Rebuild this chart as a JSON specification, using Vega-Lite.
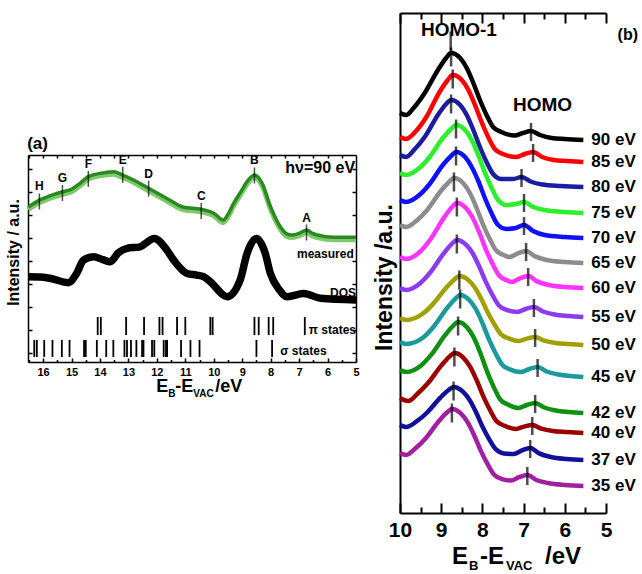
{
"$schema": "https://vega.github.io/schema/vega-lite/v6.json",
"background": "white",
"padding": {"left": 5, "top": 12, "right": 0, "bottom": 0},
"config": {
  "view": {"stroke": null},
  "font": "Liberation Sans",
  "axis": {"domainColor": "black", "tickColor": "black", "labelColor": "black", "titleColor": "black", "labelFont": "Liberation Sans", "titleFont": "Liberation Sans", "labelFontWeight": "bold", "titleFontWeight": "bold", "grid": false, "domainWidth": 1.5, "tickWidth": 1.5, "labelFlush": false, "labelOverlap": false},
  "text": {"font": "Liberation Sans", "fontWeight": "bold", "color": "black"}
},
"datasets": {
  "measured": [
    {"e":16.52,"y":6.33},{"e":16.13,"y":6.64},{"e":15.76,"y":6.82},{"e":15.32,"y":7.0},{"e":15.0,"y":7.11},{"e":14.7,"y":7.37},{"e":14.41,"y":7.66},{"e":14.0,"y":7.8},{"e":13.53,"y":7.87},{"e":13.2,"y":7.73},{"e":12.7,"y":7.44},{"e":12.29,"y":7.15},{"e":11.65,"y":6.71},{"e":11.06,"y":6.33},{"e":10.44,"y":6.24},{"e":10.0,"y":6.07},{"e":9.67,"y":5.77},{"e":9.5,"y":6.02},{"e":9.3,"y":6.5},{"e":9.05,"y":7.0},{"e":8.83,"y":7.44},{"e":8.57,"y":7.73},{"e":8.3,"y":7.37},{"e":8.01,"y":6.37},{"e":7.66,"y":5.48},{"e":7.45,"y":5.18},{"e":7.25,"y":5.12},{"e":6.95,"y":5.22},{"e":6.74,"y":5.34},{"e":6.55,"y":5.2},{"e":6.36,"y":5.12},{"e":5.78,"y":5.02},{"e":5.0,"y":5.02}
  ],
  "dos": [
    {"e":16.52,"y":3.31},{"e":16.1,"y":3.3},{"e":15.76,"y":3.24},{"e":15.11,"y":3.05},{"e":14.82,"y":3.45},{"e":14.58,"y":4.03},{"e":14.23,"y":4.18},{"e":13.9,"y":4.05},{"e":13.64,"y":3.96},{"e":13.35,"y":4.35},{"e":13.05,"y":4.54},{"e":12.59,"y":4.61},{"e":12.09,"y":4.97},{"e":11.65,"y":4.47},{"e":11.41,"y":4.03},{"e":10.94,"y":3.45},{"e":10.6,"y":3.38},{"e":10.36,"y":3.31},{"e":10.12,"y":3.09},{"e":9.53,"y":2.44},{"e":9.07,"y":3.17},{"e":8.83,"y":4.32},{"e":8.5,"y":4.97},{"e":8.19,"y":4.32},{"e":8.01,"y":3.45},{"e":7.7,"y":2.75},{"e":7.42,"y":2.44},{"e":6.84,"y":2.58},{"e":6.25,"y":2.37},{"e":5.0,"y":2.3}
  ],
  "states": [
    {"k":"pi","e":14.08},{"k":"pi","e":13.97},{"k":"pi","e":13.08},{"k":"pi","e":12.45},{"k":"pi","e":11.91},{"k":"pi","e":11.8},{"k":"pi","e":11.29},{"k":"pi","e":11.0},{"k":"pi","e":10.12},{"k":"pi","e":10.04},{"k":"pi","e":8.57},{"k":"pi","e":8.42},{"k":"pi","e":8.07},{"k":"pi","e":7.91},{"k":"pi","e":6.8},
    {"k":"sigma","e":16.31},{"k":"sigma","e":16.22},{"k":"sigma","e":15.96},{"k":"sigma","e":15.67},{"k":"sigma","e":15.34},{"k":"sigma","e":15.07},{"k":"sigma","e":14.56},{"k":"sigma","e":14.5},{"k":"sigma","e":14.11},{"k":"sigma","e":13.78},{"k":"sigma","e":13.53},{"k":"sigma","e":13.14},{"k":"sigma","e":13.05},{"k":"sigma","e":12.91},{"k":"sigma","e":12.72},{"k":"sigma","e":12.52},{"k":"sigma","e":12.47},{"k":"sigma","e":12.17},{"k":"sigma","e":12.09},{"k":"sigma","e":11.76},{"k":"sigma","e":11.68},{"k":"sigma","e":11.64},{"k":"sigma","e":11.15},{"k":"sigma","e":10.82},{"k":"sigma","e":10.5},{"k":"sigma","e":8.5},{"k":"sigma","e":7.95}
  ],
  "letters": [
    {"L":"H","e":16.13,"y":6.58},{"L":"G","e":15.32,"y":6.95},{"L":"F","e":14.41,"y":7.56},{"L":"E","e":13.2,"y":7.74},{"L":"D","e":12.29,"y":7.14},{"L":"C","e":10.44,"y":6.17},{"L":"B","e":8.57,"y":7.71},{"L":"A","e":6.74,"y":5.23}
  ],
  "curves": [
    {"s":"90 eV","e":10,"y":400},{"s":"90 eV","e":9.85,"y":398},{"s":"90 eV","e":9.65,"y":406},{"s":"90 eV","e":9.4,"y":420},{"s":"90 eV","e":9.08,"y":443},{"s":"90 eV","e":8.88,"y":455},{"s":"90 eV","e":8.76,"y":460},{"s":"90 eV","e":8.54,"y":455},{"s":"90 eV","e":8.38,"y":445},{"s":"90 eV","e":8.22,"y":430},{"s":"90 eV","e":8.06,"y":413},{"s":"90 eV","e":7.9,"y":398},{"s":"90 eV","e":7.74,"y":386},{"s":"90 eV","e":7.54,"y":381},{"s":"90 eV","e":7.22,"y":377.5},{"s":"90 eV","e":7.02,"y":380},{"s":"90 eV","e":6.82,"y":382},{"s":"90 eV","e":6.6,"y":378},{"s":"90 eV","e":6.32,"y":375},{"s":"90 eV","e":6.0,"y":374},{"s":"90 eV","e":5.55,"y":373},
    {"s":"85 eV","e":10,"y":376},{"s":"85 eV","e":9.85,"y":374},{"s":"85 eV","e":9.61,"y":382},{"s":"85 eV","e":9.36,"y":396},{"s":"85 eV","e":9.04,"y":421},{"s":"85 eV","e":8.84,"y":433},{"s":"85 eV","e":8.72,"y":438},{"s":"85 eV","e":8.5,"y":433},{"s":"85 eV","e":8.34,"y":423},{"s":"85 eV","e":8.18,"y":408},{"s":"85 eV","e":8.02,"y":391},{"s":"85 eV","e":7.86,"y":376},{"s":"85 eV","e":7.7,"y":364},{"s":"85 eV","e":7.5,"y":359},{"s":"85 eV","e":7.17,"y":356},{"s":"85 eV","e":6.97,"y":359},{"s":"85 eV","e":6.77,"y":361},{"s":"85 eV","e":6.55,"y":356},{"s":"85 eV","e":6.27,"y":353},{"s":"85 eV","e":5.95,"y":352},{"s":"85 eV","e":5.55,"y":351},
    {"s":"80 eV","e":10,"y":358},{"s":"80 eV","e":9.85,"y":356},{"s":"80 eV","e":9.65,"y":363.5},{"s":"80 eV","e":9.4,"y":376},{"s":"80 eV","e":9.08,"y":398},{"s":"80 eV","e":8.88,"y":409},{"s":"80 eV","e":8.76,"y":413},{"s":"80 eV","e":8.54,"y":408},{"s":"80 eV","e":8.38,"y":398},{"s":"80 eV","e":8.22,"y":383},{"s":"80 eV","e":8.06,"y":366},{"s":"80 eV","e":7.9,"y":351},{"s":"80 eV","e":7.74,"y":339},{"s":"80 eV","e":7.54,"y":334},{"s":"80 eV","e":7.25,"y":334},{"s":"80 eV","e":7.05,"y":336},{"s":"80 eV","e":6.83,"y":331.5},{"s":"80 eV","e":6.55,"y":328.5},{"s":"80 eV","e":6.1,"y":327},{"s":"80 eV","e":5.55,"y":326},
    {"s":"75 eV","e":10,"y":340},{"s":"75 eV","e":9.85,"y":338},{"s":"75 eV","e":9.53,"y":345},{"s":"75 eV","e":9.28,"y":356},{"s":"75 eV","e":8.96,"y":375},{"s":"75 eV","e":8.76,"y":384},{"s":"75 eV","e":8.64,"y":388},{"s":"75 eV","e":8.42,"y":383},{"s":"75 eV","e":8.26,"y":373},{"s":"75 eV","e":8.1,"y":358},{"s":"75 eV","e":7.94,"y":340.5},{"s":"75 eV","e":7.78,"y":325.5},{"s":"75 eV","e":7.62,"y":313},{"s":"75 eV","e":7.42,"y":308},{"s":"75 eV","e":7.19,"y":309},{"s":"75 eV","e":6.99,"y":311},{"s":"75 eV","e":6.77,"y":306},{"s":"75 eV","e":6.49,"y":303},{"s":"75 eV","e":6.0,"y":301},{"s":"75 eV","e":5.55,"y":300},
    {"s":"70 eV","e":10,"y":313},{"s":"70 eV","e":9.85,"y":311},{"s":"70 eV","e":9.53,"y":318},{"s":"70 eV","e":9.28,"y":329},{"s":"70 eV","e":8.96,"y":348},{"s":"70 eV","e":8.76,"y":357},{"s":"70 eV","e":8.64,"y":361},{"s":"70 eV","e":8.42,"y":356},{"s":"70 eV","e":8.26,"y":346},{"s":"70 eV","e":8.1,"y":332},{"s":"70 eV","e":7.94,"y":315},{"s":"70 eV","e":7.78,"y":300},{"s":"70 eV","e":7.62,"y":288},{"s":"70 eV","e":7.42,"y":284},{"s":"70 eV","e":7.19,"y":285},{"s":"70 eV","e":6.99,"y":288},{"s":"70 eV","e":6.77,"y":282},{"s":"70 eV","e":6.49,"y":278},{"s":"70 eV","e":6.0,"y":276},{"s":"70 eV","e":5.55,"y":275},
    {"s":"65 eV","e":10,"y":288},{"s":"65 eV","e":9.85,"y":286},{"s":"65 eV","e":9.58,"y":293},{"s":"65 eV","e":9.33,"y":303.5},{"s":"65 eV","e":9.01,"y":322},{"s":"65 eV","e":8.81,"y":331},{"s":"65 eV","e":8.69,"y":335},{"s":"65 eV","e":8.47,"y":330},{"s":"65 eV","e":8.31,"y":320.5},{"s":"65 eV","e":8.15,"y":306},{"s":"65 eV","e":7.99,"y":289},{"s":"65 eV","e":7.83,"y":274.7},{"s":"65 eV","e":7.67,"y":262.75},{"s":"65 eV","e":7.47,"y":257.7},{"s":"65 eV","e":7.34,"y":256},{"s":"65 eV","e":7.14,"y":259.6},{"s":"65 eV","e":6.94,"y":262},{"s":"65 eV","e":6.72,"y":256.6},{"s":"65 eV","e":6.44,"y":253},{"s":"65 eV","e":6.0,"y":251},{"s":"65 eV","e":5.55,"y":250},
    {"s":"60 eV","e":10,"y":256},{"s":"60 eV","e":9.85,"y":254},{"s":"60 eV","e":9.51,"y":261.4},{"s":"60 eV","e":9.26,"y":273.8},{"s":"60 eV","e":8.94,"y":294.9},{"s":"60 eV","e":8.74,"y":305.7},{"s":"60 eV","e":8.62,"y":310},{"s":"60 eV","e":8.4,"y":305},{"s":"60 eV","e":8.24,"y":295.5},{"s":"60 eV","e":8.08,"y":281},{"s":"60 eV","e":7.92,"y":264},{"s":"60 eV","e":7.76,"y":249.7},{"s":"60 eV","e":7.6,"y":237.75},{"s":"60 eV","e":7.4,"y":232.7},{"s":"60 eV","e":7.29,"y":231},{"s":"60 eV","e":7.09,"y":234.6},{"s":"60 eV","e":6.89,"y":237},{"s":"60 eV","e":6.67,"y":231.6},{"s":"60 eV","e":6.39,"y":228},{"s":"60 eV","e":6.0,"y":226},{"s":"60 eV","e":5.55,"y":225},
    {"s":"55 eV","e":10,"y":225},{"s":"55 eV","e":9.85,"y":223},{"s":"55 eV","e":9.51,"y":229.8},{"s":"55 eV","e":9.26,"y":240.8},{"s":"55 eV","e":8.94,"y":259.6},{"s":"55 eV","e":8.74,"y":269.2},{"s":"55 eV","e":8.62,"y":273},{"s":"55 eV","e":8.4,"y":268.4},{"s":"55 eV","e":8.24,"y":260},{"s":"55 eV","e":8.08,"y":246.8},{"s":"55 eV","e":7.92,"y":231.4},{"s":"55 eV","e":7.76,"y":218.3},{"s":"55 eV","e":7.6,"y":207.55},{"s":"55 eV","e":7.4,"y":202.9},{"s":"55 eV","e":7.15,"y":201},{"s":"55 eV","e":6.95,"y":204},{"s":"55 eV","e":6.75,"y":206},{"s":"55 eV","e":6.53,"y":201.5},{"s":"55 eV","e":6.25,"y":198.5},{"s":"55 eV","e":5.9,"y":197},{"s":"55 eV","e":5.55,"y":196},
    {"s":"50 eV","e":10,"y":195},{"s":"50 eV","e":9.85,"y":193},{"s":"50 eV","e":9.45,"y":199.2},{"s":"50 eV","e":9.2,"y":208.9},{"s":"50 eV","e":8.88,"y":225.2},{"s":"50 eV","e":8.68,"y":233.6},{"s":"50 eV","e":8.56,"y":237},{"s":"50 eV","e":8.34,"y":232.9},{"s":"50 eV","e":8.18,"y":225.3},{"s":"50 eV","e":8.02,"y":213.5},{"s":"50 eV","e":7.86,"y":199.7},{"s":"50 eV","e":7.7,"y":188},{"s":"50 eV","e":7.54,"y":178.35},{"s":"50 eV","e":7.34,"y":174.2},{"s":"50 eV","e":7.12,"y":172},{"s":"50 eV","e":6.92,"y":174.4},{"s":"50 eV","e":6.72,"y":176},{"s":"50 eV","e":6.5,"y":172.4},{"s":"50 eV","e":6.22,"y":170},{"s":"50 eV","e":5.9,"y":169},{"s":"50 eV","e":5.55,"y":168},
    {"s":"45 eV","e":10,"y":171},{"s":"45 eV","e":9.85,"y":169},{"s":"45 eV","e":9.43,"y":175.7},{"s":"45 eV","e":9.18,"y":186.5},{"s":"45 eV","e":8.86,"y":204.8},{"s":"45 eV","e":8.66,"y":214.2},{"s":"45 eV","e":8.54,"y":218},{"s":"45 eV","e":8.32,"y":213},{"s":"45 eV","e":8.16,"y":204},{"s":"45 eV","e":8.0,"y":190},{"s":"45 eV","e":7.84,"y":173.7},{"s":"45 eV","e":7.68,"y":159.8},{"s":"45 eV","e":7.52,"y":148.3},{"s":"45 eV","e":7.32,"y":143.4},{"s":"45 eV","e":7.06,"y":141},{"s":"45 eV","e":6.86,"y":144},{"s":"45 eV","e":6.66,"y":146},{"s":"45 eV","e":6.44,"y":141.5},{"s":"45 eV","e":6.16,"y":138.5},{"s":"45 eV","e":5.85,"y":137},{"s":"45 eV","e":5.55,"y":136},
    {"s":"42 eV","e":10,"y":143},{"s":"42 eV","e":9.85,"y":141},{"s":"42 eV","e":9.48,"y":147.8},{"s":"42 eV","e":9.23,"y":158.8},{"s":"42 eV","e":8.91,"y":177.6},{"s":"42 eV","e":8.71,"y":187.2},{"s":"42 eV","e":8.59,"y":191},{"s":"42 eV","e":8.37,"y":185.5},{"s":"42 eV","e":8.21,"y":175.5},{"s":"42 eV","e":8.05,"y":160},{"s":"42 eV","e":7.89,"y":141.9},{"s":"42 eV","e":7.73,"y":126.4},{"s":"42 eV","e":7.57,"y":113.65},{"s":"42 eV","e":7.37,"y":108.2},{"s":"42 eV","e":7.12,"y":105},{"s":"42 eV","e":6.92,"y":108},{"s":"42 eV","e":6.72,"y":110},{"s":"42 eV","e":6.5,"y":105.5},{"s":"42 eV","e":6.22,"y":102.5},{"s":"42 eV","e":5.9,"y":101},{"s":"42 eV","e":5.55,"y":100},
    {"s":"40 eV","e":10,"y":115},{"s":"40 eV","e":9.8,"y":112},{"s":"40 eV","e":9.57,"y":119.5},{"s":"40 eV","e":9.32,"y":129.9},{"s":"40 eV","e":9.0,"y":147.4},{"s":"40 eV","e":8.8,"y":156.4},{"s":"40 eV","e":8.68,"y":160},{"s":"40 eV","e":8.46,"y":155.2},{"s":"40 eV","e":8.3,"y":146.4},{"s":"40 eV","e":8.14,"y":132.8},{"s":"40 eV","e":7.98,"y":116.8},{"s":"40 eV","e":7.82,"y":103.2},{"s":"40 eV","e":7.66,"y":92},{"s":"40 eV","e":7.46,"y":87.2},{"s":"40 eV","e":7.19,"y":84},{"s":"40 eV","e":6.99,"y":86.4},{"s":"40 eV","e":6.79,"y":88},{"s":"40 eV","e":6.57,"y":84.4},{"s":"40 eV","e":6.29,"y":82},{"s":"40 eV","e":5.95,"y":81},{"s":"40 eV","e":5.55,"y":80},
    {"s":"37 eV","e":10,"y":88},{"s":"37 eV","e":9.85,"y":86},{"s":"37 eV","e":9.59,"y":91.8},{"s":"37 eV","e":9.34,"y":100.5},{"s":"37 eV","e":9.02,"y":115.4},{"s":"37 eV","e":8.82,"y":123},{"s":"37 eV","e":8.7,"y":126},{"s":"37 eV","e":8.48,"y":121.6},{"s":"37 eV","e":8.32,"y":113.6},{"s":"37 eV","e":8.16,"y":101.2},{"s":"37 eV","e":8.0,"y":86.6},{"s":"37 eV","e":7.84,"y":74.2},{"s":"37 eV","e":7.68,"y":64},{"s":"37 eV","e":7.48,"y":59.6},{"s":"37 eV","e":7.24,"y":59},{"s":"37 eV","e":7.04,"y":62.6},{"s":"37 eV","e":6.84,"y":65},{"s":"37 eV","e":6.62,"y":59.6},{"s":"37 eV","e":6.34,"y":56},{"s":"37 eV","e":5.95,"y":54},{"s":"37 eV","e":5.55,"y":53},
    {"s":"35 eV","e":10,"y":60},{"s":"35 eV","e":9.85,"y":58},{"s":"35 eV","e":9.63,"y":64.4},{"s":"35 eV","e":9.38,"y":74.5},{"s":"35 eV","e":9.06,"y":91.7},{"s":"35 eV","e":8.86,"y":100.5},{"s":"35 eV","e":8.74,"y":104},{"s":"35 eV","e":8.52,"y":99.4},{"s":"35 eV","e":8.36,"y":90.9},{"s":"35 eV","e":8.2,"y":77.8},{"s":"35 eV","e":8.04,"y":62.4},{"s":"35 eV","e":7.88,"y":49.3},{"s":"35 eV","e":7.72,"y":38.55},{"s":"35 eV","e":7.52,"y":33.9},{"s":"35 eV","e":7.31,"y":32.5},{"s":"35 eV","e":7.11,"y":35.8},{"s":"35 eV","e":6.91,"y":38},{"s":"35 eV","e":6.69,"y":33},{"s":"35 eV","e":6.41,"y":30},{"s":"35 eV","e":6.0,"y":28},{"s":"35 eV","e":5.55,"y":27}
  ],
  "peaks": [
    {"e":8.77,"y":476},{"e":8.76,"y":460},{"e":8.72,"y":438},{"e":8.76,"y":413},{"e":8.64,"y":388},{"e":8.64,"y":361},{"e":8.69,"y":335},{"e":8.62,"y":310},{"e":8.62,"y":273},{"e":8.56,"y":237},{"e":8.54,"y":218},{"e":8.59,"y":191},{"e":8.68,"y":160},{"e":8.7,"y":126},{"e":8.74,"y":104}
  ],
  "homo": [
    {"e":6.82,"y":382},{"e":6.77,"y":361},{"e":7.05,"y":336},{"e":6.99,"y":311},{"e":6.99,"y":288},{"e":6.94,"y":262},{"e":6.89,"y":237},{"e":6.75,"y":206},{"e":6.72,"y":176},{"e":6.66,"y":146},{"e":6.72,"y":110},{"e":6.79,"y":88},{"e":6.84,"y":65},{"e":6.91,"y":38}
  ]
},
"spacing": 2,
"hconcat": [
  {
    "bounds": "flush",
    "spacing": 0,
    "vconcat": [
      {"width": 328, "height": 142, "data": {"values": []}, "mark": "point"},
      {
        "width": 328, "height": 207,
        "resolve": {"axis": {"x": "independent", "y": "independent"}},
        "layer": [
          {"data": {"name": "measured"},
           "mark": {"type": "line", "color": "#80c870", "strokeWidth": 5, "yOffset": 2.5, "interpolate": "monotone"},
           "encoding": {
             "x": {"field": "e", "type": "quantitative", "scale": {"domain": [16.53, 5], "nice": false, "zero": false},
                   "axis": {"orient": "bottom", "values": [16,15,14,13,12,11,10,9,8,7,6,5], "tickSize": -4, "labelFontSize": 11, "labelPadding": 8, "title": null}},
             "y": {"field": "y", "type": "quantitative", "scale": {"domain": [-0.4, 8.6], "nice": false, "zero": false},
                   "axis": {"orient": "left", "values": [0,1,2,3,4,5,6,7,8], "tickSize": -4, "labels": false, "title": "Intensity / a.u.", "titleFontSize": 16, "titlePadding": 6, "titleY": 97}}
           }},
          {"data": {"name": "measured"},
           "mark": {"type": "line", "color": "#2b8a1f", "strokeWidth": 3.5, "interpolate": "monotone"},
           "encoding": {
             "x": {"field": "e", "type": "quantitative", "scale": {"domain": [16.53, 5], "nice": false, "zero": false},
                   "axis": {"orient": "bottom", "values": [16.5,15.5,14.5,13.5,12.5,11.5,10.5,9.5,8.5,7.5,6.5,5.5], "tickSize": -2.5, "labels": false, "domain": false, "title": null}},
             "y": {"field": "y", "type": "quantitative", "scale": {"domain": [-0.4, 8.6], "nice": false, "zero": false},
                   "axis": {"orient": "right", "values": [0,1,2,3,4,5,6,7,8], "tickSize": -4, "labels": false, "title": null}}
           }},
          {"data": {"name": "dos"},
           "mark": {"type": "line", "color": "black", "strokeWidth": 7.5, "interpolate": "monotone"},
           "encoding": {
             "x": {"field": "e", "type": "quantitative", "scale": {"domain": [16.53, 5], "nice": false, "zero": false},
                   "axis": {"orient": "top", "values": [16.5,16,15.5,15,14.5,14,13.5,13,12.5,12,11.5,11,10.5,10,9.5,9,8.5,8,7.5,7,6.5,6,5.5], "tickSize": -3, "labels": false, "title": null}},
             "y": {"field": "y", "type": "quantitative", "scale": {"domain": [-0.4, 8.6], "nice": false, "zero": false}, "axis": null}
           }},
          {"data": {"name": "states"},
           "transform": [{"filter": "datum.k == 'pi'"}],
           "mark": {"type": "rule", "color": "black", "strokeWidth": 1.8},
           "encoding": {
             "x": {"field": "e", "type": "quantitative", "axis": null},
             "y": {"datum": 0.77, "type": "quantitative", "axis": null},
             "y2": {"datum": 1.56}
           }},
          {"data": {"name": "states"},
           "transform": [{"filter": "datum.k == 'sigma'"}],
           "mark": {"type": "rule", "color": "black", "strokeWidth": 1.8},
           "encoding": {
             "x": {"field": "e", "type": "quantitative", "axis": null},
             "y": {"datum": -0.18, "type": "quantitative", "axis": null},
             "y2": {"datum": 0.56}
           }},
          {"data": {"name": "letters"},
           "mark": {"type": "tick", "orient": "vertical", "color": "black", "size": 16, "thickness": 1.5},
           "encoding": {
             "x": {"field": "e", "type": "quantitative", "axis": null},
             "y": {"field": "y", "type": "quantitative", "axis": null}
           }},
          {"data": {"name": "letters"},
           "mark": {"type": "text", "fontSize": 12, "dy": -15, "baseline": "middle"},
           "encoding": {
             "x": {"field": "e", "type": "quantitative", "axis": null},
             "y": {"field": "y", "type": "quantitative", "axis": null},
             "text": {"field": "L"}
           }},
          {"data": {"values": [{"t": "measured", "e": 5.08, "y": 4.3}, {"t": "DOS", "e": 5.0, "y": 2.61}, {"t": "π states", "e": 5.0, "y": 1.0}]},
           "mark": {"type": "text", "fontSize": 12, "align": "right", "baseline": "middle"},
           "encoding": {
             "x": {"field": "e", "type": "quantitative", "axis": null},
             "y": {"field": "y", "type": "quantitative", "axis": null},
             "text": {"field": "t"}
           }},
          {"data": {"values": [{"t": "σ states", "e": 7.66, "y": 0.09}]},
           "mark": {"type": "text", "fontSize": 12, "align": "left", "baseline": "middle"},
           "encoding": {
             "x": {"field": "e", "type": "quantitative", "axis": null},
             "y": {"field": "y", "type": "quantitative", "axis": null},
             "text": {"field": "t"}
           }},
          {"data": {"values": [{"t": "hν=90 eV", "e": 5.03, "y": 8.03}]},
           "mark": {"type": "text", "fontSize": 16, "align": "right", "baseline": "middle"},
           "encoding": {
             "x": {"field": "e", "type": "quantitative", "axis": null},
             "y": {"field": "y", "type": "quantitative", "axis": null},
             "text": {"field": "t"}
           }},
          {"data": {"values": [{"t": "(a)", "e": 16.56, "y": 9.08}]},
           "mark": {"type": "text", "fontSize": 17, "align": "left", "baseline": "middle"},
           "encoding": {
             "x": {"field": "e", "type": "quantitative", "axis": null},
             "y": {"field": "y", "type": "quantitative", "axis": null},
             "text": {"field": "t"}
           }},
          {"data": {"values": [{"t": "E", "e": 12.02, "y": -1.704}, {"t": "-E", "e": 11.35, "y": -1.704}, {"t": "/eV", "e": 9.95, "y": -1.704}]},
           "mark": {"type": "text", "fontSize": 18, "align": "left", "baseline": "alphabetic"},
           "encoding": {
             "x": {"field": "e", "type": "quantitative", "axis": null},
             "y": {"field": "y", "type": "quantitative", "axis": null},
             "text": {"field": "t"}
           }},
          {"data": {"values": [{"t": "B", "e": 11.6, "y": -1.922}, {"t": "VAC", "e": 10.72, "y": -1.922}]},
           "mark": {"type": "text", "fontSize": 10, "align": "left", "baseline": "alphabetic"},
           "encoding": {
             "x": {"field": "e", "type": "quantitative", "axis": null},
             "y": {"field": "y", "type": "quantitative", "axis": null},
             "text": {"field": "t"}
           }}
        ]
      }
    ]
  },
  {
    "width": 206, "height": 500,
    "resolve": {"axis": {"x": "independent", "y": "independent"}},
    "layer": [
      {"data": {"name": "curves"},
       "mark": {"type": "line", "strokeWidth": 4.5, "interpolate": "monotone"},
       "encoding": {
         "x": {"field": "e", "type": "quantitative", "scale": {"domain": [10, 5], "nice": false, "zero": false},
               "axis": {"orient": "bottom", "values": [10,9,8,7,6,5], "tickSize": -10, "labelFontSize": 21, "labelPadding": 16, "title": null, "domainWidth": 2, "tickWidth": 2}},
         "y": {"field": "y", "type": "quantitative", "scale": {"domain": [0, 500], "nice": false, "zero": false},
               "axis": {"orient": "left", "ticks": false, "labels": false, "title": "Intensity /a.u.", "titleFontSize": 23, "titlePadding": 4, "titleY": 264, "domainWidth": 2}},
         "color": {"field": "s", "type": "nominal", "legend": null,
                   "scale": {"domain": ["90 eV","85 eV","80 eV","75 eV","70 eV","65 eV","60 eV","55 eV","50 eV","45 eV","42 eV","40 eV","37 eV","35 eV"],
                             "range": ["#000000","#ff0000","#1c1ca0","#2cf02c","#1010ff","#8c8c8c","#ff33ff","#8c3cf0","#a0a000","#1a9a9a","#109010","#9a0000","#10109a","#a020a0"]}},
         "detail": {"field": "s"}
       }},
      {"data": {"name": "curves"},
       "transform": [{"filter": "datum.e == 5.55"}],
       "mark": {"type": "text", "fontSize": 17, "align": "left", "baseline": "middle", "dx": 8},
       "encoding": {
         "x": {"field": "e", "type": "quantitative",
               "axis": {"orient": "bottom", "values": [9.5,8.5,7.5,6.5,5.5], "tickSize": -6, "labels": false, "domain": false, "title": null, "tickWidth": 2}},
         "y": {"field": "y", "type": "quantitative", "axis": null},
         "text": {"field": "s"}
       }},
      {"data": {"name": "peaks"},
       "mark": {"type": "tick", "orient": "vertical", "color": "black", "size": 19, "thickness": 2.5, "yOffset": 4},
       "encoding": {
         "x": {"field": "e", "type": "quantitative",
               "axis": {"orient": "top", "values": [10,9,8,7,6,5], "tickSize": -10, "labels": false, "title": null, "domainWidth": 2, "tickWidth": 2}},
         "y": {"field": "y", "type": "quantitative", "axis": null}
       }},
      {"data": {"name": "homo"},
       "mark": {"type": "tick", "orient": "vertical", "color": "black", "size": 18, "thickness": 2.5, "yOffset": 1},
       "encoding": {
         "x": {"field": "e", "type": "quantitative",
               "axis": {"orient": "top", "values": [9.5,8.5,7.5,6.5,5.5], "tickSize": -6, "labels": false, "domain": false, "title": null, "tickWidth": 2}},
         "y": {"field": "y", "type": "quantitative", "axis": null}
       }},
      {"mark": {"type": "rule", "color": "black", "strokeWidth": 2},
       "encoding": {
         "x": {"datum": 5, "type": "quantitative", "axis": null},
         "y": {"datum": 500, "type": "quantitative", "axis": null},
         "y2": {"datum": 390}
       }},
      {"data": {"values": [{"t": "HOMO-1", "e": 8.57, "y": 483}, {"t": "HOMO", "e": 6.54, "y": 408}]},
       "mark": {"type": "text", "fontSize": 19, "baseline": "middle"},
       "encoding": {
         "x": {"field": "e", "type": "quantitative", "axis": null},
         "y": {"field": "y", "type": "quantitative", "axis": null},
         "text": {"field": "t"}
       }},
      {"data": {"values": [{"t": "(b)", "e": 4.47, "y": 478}]},
       "mark": {"type": "text", "fontSize": 16, "baseline": "middle"},
       "encoding": {
         "x": {"field": "e", "type": "quantitative", "axis": null},
         "y": {"field": "y", "type": "quantitative", "axis": null},
         "text": {"field": "t"}
       }},
      {"data": {"values": [{"t": "E", "e": 8.738, "y": -51}, {"t": "-E", "e": 8.058, "y": -51}, {"t": "/eV", "e": 6.48, "y": -51}]},
       "mark": {"type": "text", "fontSize": 24, "align": "left", "baseline": "alphabetic"},
       "encoding": {
         "x": {"field": "e", "type": "quantitative", "axis": null},
         "y": {"field": "y", "type": "quantitative", "axis": null},
         "text": {"field": "t"}
       }},
      {"data": {"values": [{"t": "B", "e": 8.325, "y": -57}, {"t": "VAC", "e": 7.427, "y": -57}]},
       "mark": {"type": "text", "fontSize": 13, "align": "left", "baseline": "alphabetic"},
       "encoding": {
         "x": {"field": "e", "type": "quantitative", "axis": null},
         "y": {"field": "y", "type": "quantitative", "axis": null},
         "text": {"field": "t"}
       }}
    ]
  }
]
}
